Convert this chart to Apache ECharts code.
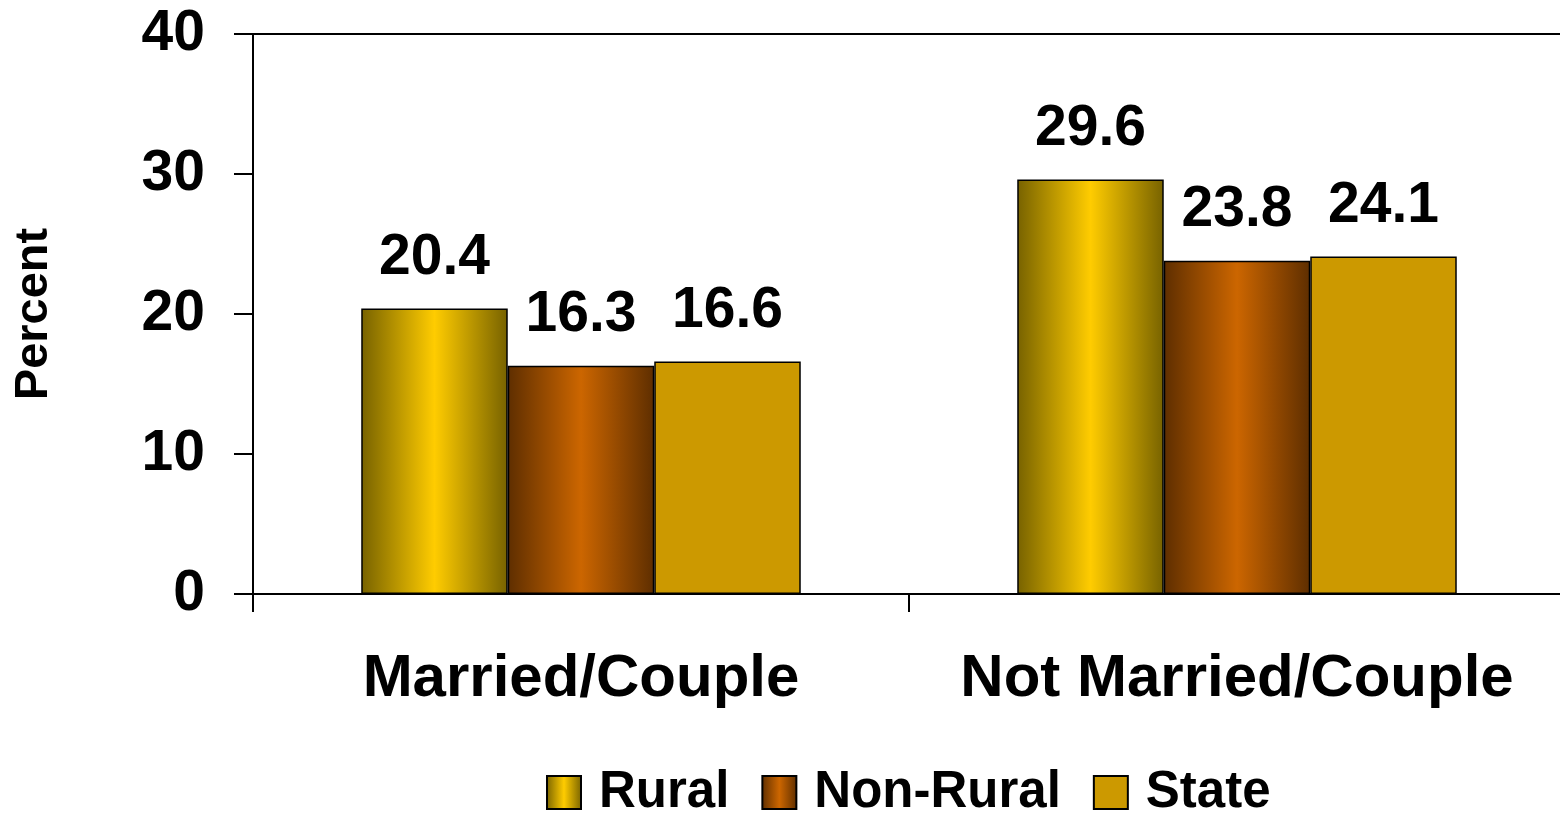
<!DOCTYPE html>
<html>
<head>
<meta charset="utf-8">
<script src="https://cdn.jsdelivr.net/npm/echarts@6/dist/echarts.min.js"></script>
<style>
 html,body{margin:0;padding:0;background:#fff;}
 #chart{width:1560px;height:815px;}
</style>
</head>
<body>
<div id="chart"></div>
<script>
// данные графика
var categories = ['Married/Couple', 'Not Married/Couple'];
var seriesNames = ['Rural', 'Non-Rural', 'State'];
var rural    = [20.4, 29.6];
var nonRural = [16.3, 23.8];
var state    = [16.6, 24.1];
var yMin = 0, yMax = 40, yStep = 10;

var FONT = '"Liberation Sans", Arial, sans-serif';

// горизонтальный «цилиндрический» градиент: тёмный край - светлый центр - тёмный край
function tube(edge, mid){
 return new echarts.graphic.LinearGradient(0, 0, 1, 0, [
  {offset:0, color:edge}, {offset:0.5, color:mid}, {offset:1, color:edge}
 ]);
}

var labelCommon = {
 show:true, position:'top', distance:22,
 color:'#000', fontFamily:FONT, fontWeight:'bold', fontSize:57,
 formatter:function(p){return p.value.toFixed(1);}
};
var itemBase = {borderColor:'#000', borderWidth:1.5};

function bar(name, data, color){
 return {
  name:name, type:'bar', data:data,
  barGap:'0%', barCategoryGap:'33%',
  itemStyle:Object.assign({color:color}, itemBase),
  label:labelCommon,
  emphasis:{disabled:true}
 };
}

var chart = echarts.init(document.getElementById('chart'), null, {renderer:'canvas'});
chart.setOption({
 animation:false,
 backgroundColor:'#fff',
 textStyle:{fontFamily:FONT},
 grid:{left:253, top:34, width:1312, height:560, show:true, outerBoundsMode:'none',
       containLabel:false, borderColor:'#000', borderWidth:2, backgroundColor:'transparent'},
 legend:{
  data:seriesNames, top:767, left:546, icon:'rect', padding:0,
  itemWidth:34, itemHeight:33, itemGap:32,
  textStyle:{color:'#000', fontFamily:FONT, fontWeight:'bold', fontSize:51, padding:[0,0,0,13]}
 },
 xAxis:{
  type:'category', data:categories,
  axisLine:{lineStyle:{color:'#000', width:2}},
  axisTick:{show:true, length:18, lineStyle:{color:'#000', width:2}},
  axisLabel:{color:'#000', fontFamily:FONT, fontWeight:'bold', fontSize:60, margin:55,
             interval:0, hideOverlap:false}
 },
 yAxis:{
  type:'value', min:yMin, max:yMax, interval:yStep,
  name:'Percent', nameLocation:'middle', nameGap:195, nameRotate:90,
  nameTextStyle:{color:'#000', fontFamily:FONT, fontWeight:'bold', fontSize:47},
  axisLine:{show:true, lineStyle:{color:'#000', width:2}},
  axisTick:{show:true, length:19, lineStyle:{color:'#000', width:2}},
  axisLabel:{color:'#000', fontFamily:FONT, fontWeight:'bold', fontSize:57, margin:48},
  splitLine:{show:false}
 },
 series:[
  bar('Rural', rural, tube('#776200', '#ffcc00')),
  bar('Non-Rural', nonRural, tube('#5e2e00', '#cc6600')),
  bar('State', state, '#cc9900')
 ]
});
</script>
</body>
</html>
